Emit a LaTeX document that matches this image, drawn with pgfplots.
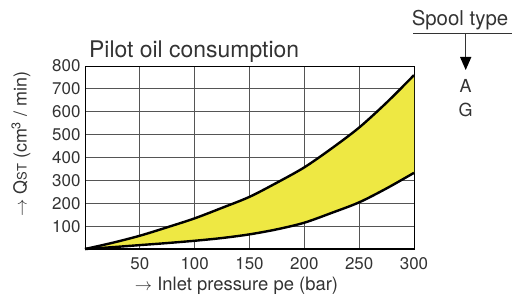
\documentclass[border=0pt]{standalone}
\usepackage{pgfplots}
\pgfplotsset{compat=1.18}
\usepgfplotslibrary{fillbetween}
\usepackage{fontspec}
\setmainfont{TeX Gyre Heros}
\definecolor{txt}{HTML}{333333}
\definecolor{fillY}{HTML}{EEE843}
\definecolor{gridc}{HTML}{555555}

\pgfplotstableread{
x y
0 0
25 27
50 58
75 95
100 134
125 180
150 228
175 290
200 357
225 440
250 531
275 640
300 760
}\uppertab
\pgfplotstableread{
x y
0 0
25 8
50 17
75 26
100 36
125 48
150 64
175 86
200 115
225 158
250 204
275 265
300 333
}\lowertab

\begin{document}
\begin{tikzpicture}
\begin{axis}[
  set layers,
  at={(0bp,0bp)}, anchor=south west,
  scale only axis, width=329bp, height=183bp,
  xmin=0, xmax=300, ymin=0, ymax=800,
  xtick={50,100,...,300}, ytick={100,200,...,800},
  grid=major, major grid style={gridc, line width=0.8bp},
  major tick length=0,
  axis line style={black, line width=1bp},
  /pgf/number format/assume math mode=true,
  tick label style={font=\fontsize{17}{17}\selectfont, text=txt},
  xticklabel style={yshift=-5bp},
  yticklabel style={xshift=-1bp},
  clip=false,
]
\addplot[name path=up, black, line width=2.4bp, smooth] table[x=x,y=y] {\uppertab};
\addplot[name path=lo, black, line width=2.4bp, smooth] table[x=x,y=y] {\lowertab};
\addplot[fillY, on layer=axis background] fill between[of=up and lo];
\draw[black, line width=2bp] (axis cs:0,0) -- (axis cs:300,0);
\end{axis}
% title
\node[anchor=base west, inner sep=0, text=txt, font=\fontsize{23}{23}\selectfont] at (4bp,191.5bp) {Pilot oil consumption};
% x label
\node[anchor=base, inner sep=0, text=txt, font=\fontsize{18.5}{18.5}\selectfont] at (151.5bp,-41.5bp) {$\rightarrow$ Inlet pressure pe (bar)};
% y label
\node[anchor=center, inner sep=0, rotate=90, text=txt, font=\fontsize{18}{18}\selectfont] at (-64bp,105bp) {$\rightarrow$ Q{\fontsize{13}{13}\selectfont ST} (cm\textsuperscript{3} / min)};
% spool type
\node[anchor=base, inner sep=0, text=txt, font=\fontsize{20.5}{20.5}\selectfont] at (375bp,223bp) {Spool type};
\draw[txt, line width=0.9bp] (328bp,215.7bp) -- (427bp,215.7bp);
\draw[txt, line width=0.9bp] (380.7bp,215.7bp) -- (380.7bp,192bp);
\fill[black] (375bp,192bp) -- (386.4bp,192bp) -- (380.7bp,179bp) -- cycle;
\node[anchor=base, inner sep=0, text=txt, font=\fontsize{18}{18}\selectfont] at (380.7bp,156bp) {A};
\node[anchor=base, inner sep=0, text=txt, font=\fontsize{18}{18}\selectfont] at (380.7bp,132bp) {G};
\pgfresetboundingbox
\useasboundingbox (-85bp,-51bp) rectangle (439bp,249bp);
\end{tikzpicture}
\end{document}
